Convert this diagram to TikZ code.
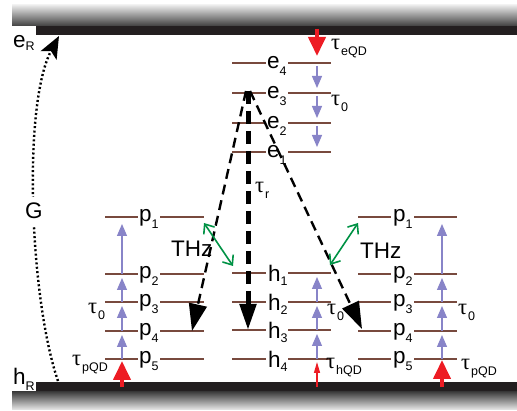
\documentclass[tikz,border=0pt]{standalone}
\usepackage{fontspec}
\setmainfont{Liberation Sans}
\newfontfamily\grkfont{Liberation Serif}
\usetikzlibrary{arrows.meta,calc}
\definecolor{lvl}{RGB}{120,74,62}
\definecolor{purp}{RGB}{136,132,200}
\definecolor{redar}{RGB}{237,28,36}
\definecolor{grn}{RGB}{0,146,69}
\definecolor{barblack}{RGB}{35,31,32}
\newcommand\lsub[2][7pt]{\raisebox{-#1}{\fontsize{12.5}{12.5}\selectfont #2}}
\newcommand\tauof[1]{{\grkfont τ}\kern1pt\lsub[6pt]{#1}}
\tikzset{
  lab/.style={anchor=base west, inner sep=0pt, font=\fontsize{22.5}{26}\selectfont},
  lev/.style={draw=lvl, line width=2pt},
  purarrow/.style={draw=purp, line width=1.3pt, -{Triangle[length=12pt,width=10pt]}},
  redbig/.style={draw=redar, line width=4pt, -{Triangle[length=19pt,width=17pt]}},
  redthin/.style={draw=redar, line width=1.3pt, -{Triangle[length=11pt,width=6pt]}},
  blkthin/.style={draw=black, line width=2.4pt, dash pattern=on 10pt off 6pt, -{Triangle[length=27pt,width=18pt]}},
  blkthick/.style={draw=black, line width=5pt, dash pattern=on 13pt off 7pt, -{Triangle[length=26pt,width=16pt]}},
  grnarrow/.style={draw=grn, line width=1.6pt, {Straight Barb[length=8pt,width=13pt]}-{Straight Barb[length=8pt,width=13pt]}},
  dotcurve/.style={draw=black, line width=2.4pt, dash pattern=on 2pt off 2.4pt, -{Stealth[length=22pt,width=18pt,inset=5pt]}}
}
\begin{document}
\begin{tikzpicture}[x=1pt,y=-1pt]
\useasboundingbox (0,0) rectangle (517,411);
\fill[white] (0,0) rectangle (517,411);
% bars
\shade[top color=black!8, bottom color=black!75] (12,5) rectangle (517,26);
\fill[barblack] (36,26) rectangle (517,35);
\fill[barblack] (36,382) rectangle (517,392);
\shade[top color=black!75, bottom color=black!8] (12,392) rectangle (517,410);

% e levels
\foreach \n/\y in {4/63,3/93,2/123,1/152}{
  \draw[lev] (232,\y) -- (266,\y);
  \draw[lev] (288,\y) -- (331,\y);
  \node[lab] (e\n) at (267,\y+5.5) {e\lsub{\n}};
  \coordinate (ea\n) at (317,\y);
}
% h levels
\foreach \n/\y in {1/273,2/302,3/330,4/359}{
  \draw[lev] (232,\y) -- (266,\y);
  \draw[lev] (288,\y) -- (331,\y);
  \node[lab] (h\n) at (268,\y+8.5) {h\lsub[4pt]{\n}};
  \coordinate (ha\n) at (317,\y);
}
% left p levels
\foreach \n/\y in {1/217,2/274,3/302,4/331,5/359}{
  \draw[lev] (105,\y) -- (138,\y);
  \draw[lev] (160,\y) -- (204,\y);
  \node[lab] (pl\n) at (139,\y+5) {p\lsub{\n}};
  \coordinate (pla\n) at (122,\y);
}
% right p levels
\foreach \n/\y in {1/217,2/274,3/302,4/331,5/359}{
  \draw[lev] (358,\y) -- (391,\y);
  \draw[lev] (414,\y) -- (457,\y);
  \node[lab] (pr\n) at (393,\y+5) {p\lsub{\n}};
  \coordinate (pra\n) at (442,\y);
}

% reservoir labels
\node[lab] (eR) at (13,48) {e\lsub[3pt]{R}};
\node[lab] (hR) at (13,385) {h\lsub[6pt]{R}};

% generation curve
\coordinate (gstart) at (58,381);
\coordinate (gend) at (59,36);
\draw[dotcurve] (gstart) .. controls (30,300) and (22,105) .. (gend);
\node[font=\fontsize{22.5}{26}\selectfont, fill=white, inner xsep=2pt, inner ysep=6pt] (G) at (34,211) {G};

% purple relaxation arrows
\draw[purarrow] ($(ea4)+(0,3)$) -- ($(ea3)+(0,-5)$);
\draw[purarrow] ($(ea3)+(0,3)$) -- ($(ea2)+(0,-5)$);
\draw[purarrow] ($(ea2)+(0,3)$) -- ($(ea1)+(0,-5)$);
\foreach \c in {pla,pra}{
  \draw[purarrow] (\c5) -- ($(\c4)+(0,4)$);
  \draw[purarrow] (\c4) -- ($(\c3)+(0,4)$);
  \draw[purarrow] (\c3) -- ($(\c2)+(0,4)$);
  \draw[purarrow] (\c2) -- ($(\c1)+(0,7)$);
}
\draw[purarrow] (ha4) -- ($(ha3)+(0,4)$);
\draw[purarrow] (ha3) -- ($(ha2)+(0,4)$);
\draw[purarrow] (ha2) -- ($(ha1)+(0,4)$);

% red injection arrows
\coordinate (rE) at (317,29);
\coordinate (rPL) at (122,387);
\coordinate (rPR) at (442,387);
\coordinate (rH) at (317,387);
\draw[redbig] (rE) -- ($(ea4)+(0,-7)$);
\draw[redbig] (rPL) -- ($(pla5)+(0,2)$);
\draw[redbig] (rPR) -- ($(pra5)+(0,1)$);
\draw[redthin] (rH) -- ($(ha4)+(0,3)$);

% tau labels
\node[lab] (teqd) at (331,50) {\tauof{eQD}};
\node[lab] (te0) at (331,106) {\tauof{0}};
\node[lab] (tr) at (255,193) {\tauof{r}};
\node[lab] (tl0) at (88,314) {\tauof{0}};
\node[lab] (tlpqd) at (72,366) {\tauof{pQD}};
\node[lab] (th0) at (327,315) {\tauof{0}};
\node[lab] (thqd) at (326,369) {\tauof{hQD}};
\node[lab] (tr0) at (458,315) {\tauof{0}};
\node[lab] (trpqd) at (461,370) {\tauof{pQD}};

% THz labels
\node[lab] (thzl) at (171,257) {THz};
\node[lab] (thzr) at (360,259) {THz};

% recombination arrows
\coordinate (apexL) at (246,91);
\coordinate (apexM) at (248,91);
\coordinate (apexR) at (250,91);
\coordinate (tipL) at (192,331);
\coordinate (tipM) at (248,330);
\coordinate (tipR) at (362,329);
\draw[blkthin] (apexL) -- (tipL);
\draw[blkthick] (apexM) -- (tipM);
\draw[blkthin] (apexR) -- (tipR);

% THz transitions
\coordinate (gL1) at (204,223);
\coordinate (gL2) at (233,266);
\coordinate (gR1) at (330,265);
\coordinate (gR2) at (358,223);
\draw[grnarrow] (gL1) -- (gL2);
\draw[grnarrow] (gR1) -- (gR2);
\end{tikzpicture}
\end{document}
